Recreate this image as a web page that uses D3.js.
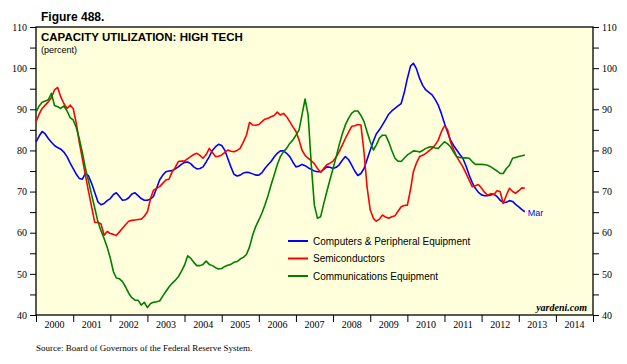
<!DOCTYPE html>
<html><head><meta charset="utf-8">
<script src="https://cdn.jsdelivr.net/npm/d3@7"></script>
<style>body{margin:0;background:#fff}svg{display:block}</style>
</head><body>
<svg id="c" width="627" height="364"></svg>
<script>
const startMonth = "2000-01";
const endMonth = "2013-03";
const yearLabels = ["2000","2001","2002","2003","2004","2005","2006","2007","2008","2009","2010","2011","2012","2013","2014"];
const yTicks = [40,50,60,70,80,90,100,110];
const seriesNames = ["Computers & Peripheral Equipment","Semiconductors","Communications Equipment"];
const seriesColors = ["#0000ff","#ff0000","#007f00"];

const computers = [82.1,83.5,84.6,84.0,82.9,82.0,81.2,80.7,80.3,79.6,78.5,77.0,75.6,74.2,73.2,73.0,74.4,73.8,72.0,69.8,
67.5,66.8,67.1,67.8,68.3,69.3,69.7,68.8,67.9,68.0,68.5,69.4,69.7,69.0,68.3,67.9,67.9,68.2,68.8,70.8,
72.8,74.0,74.8,75.0,75.1,75.5,76.0,76.6,77.1,77.2,76.8,76.0,75.5,75.6,76.0,77.2,78.5,80.0,80.9,81.5,
81.2,80.0,78.1,76.0,74.2,73.8,74.0,74.5,74.7,74.6,74.3,74.0,74.0,74.6,75.6,76.5,77.3,78.4,79.3,79.9,
79.9,79.3,78.5,77.2,76.0,76.2,76.6,76.3,75.8,75.4,75.0,74.8,74.8,75.4,76.0,75.9,75.6,75.9,76.5,77.6,
78.5,77.8,76.5,75.0,73.9,74.4,75.6,77.8,80.1,82.3,84.0,85.0,86.2,87.5,88.8,89.6,90.2,90.8,91.4,94.0,
97.5,100.5,101.2,99.8,97.5,95.8,94.7,94.1,93.5,92.4,91.0,89.0,86.6,84.4,82.5,81.2,80.1,79.0,78.1,76.2,
74.0,72.2,70.8,69.8,69.2,69.0,69.0,69.2,69.4,68.8,67.9,67.3,67.4,67.8,67.6,66.9,66.3,65.6,65.1];

const semiconductors = [87.0,88.8,90.2,91.0,91.8,92.8,94.7,95.3,93.0,91.4,90.2,91.0,90.2,86.5,82.1,78.0,74.0,70.0,66.3,62.5,
62.5,62.2,59.4,60.3,59.8,59.6,59.3,60.2,61.1,62.0,62.8,63.0,63.1,63.2,63.3,64.0,65.1,68.3,70.3,70.8,
71.2,72.0,72.8,73.0,74.8,75.8,77.3,77.4,77.4,78.0,78.5,79.0,79.3,78.8,78.1,79.0,80.5,79.5,78.5,78.6,
78.9,79.5,80.1,79.8,79.7,80.0,80.5,82.0,83.7,86.8,86.2,86.1,86.3,87.0,87.6,87.8,88.2,88.5,89.3,88.6,
89.0,88.2,87.0,85.8,84.6,82.5,80.1,78.8,78.1,77.5,76.8,75.6,74.7,75.6,76.5,76.9,77.4,78.4,79.7,81.3,
82.9,84.4,85.8,86.0,86.3,86.2,79.5,71.0,65.5,63.5,62.8,63.3,64.3,63.8,63.5,63.9,64.1,65.2,66.3,66.6,
66.7,70.5,74.8,77.0,78.5,78.8,79.3,79.9,80.5,81.3,82.5,84.5,86.0,85.0,82.1,80.2,78.5,77.2,76.0,74.4,
72.8,71.2,71.4,71.7,70.8,69.8,69.1,69.5,69.3,70.2,70.0,67.1,69.1,70.8,70.0,69.6,70.2,70.9,70.8];

const communications = [89.3,90.8,91.7,92.0,92.3,93.9,90.9,90.6,90.2,90.8,89.6,88.0,87.4,85.5,82.9,79.5,75.6,72.5,69.2,66.0,
62.7,60.5,58.6,56.5,53.8,50.5,49.0,48.8,48.1,46.8,45.3,44.2,43.6,43.6,42.4,43.1,41.8,42.8,43.1,43.2,
43.4,44.6,45.7,46.8,47.7,48.4,49.3,50.6,52.1,54.4,53.8,52.8,52.0,52.0,52.3,53.1,52.3,52.0,51.5,51.2,
51.3,51.8,52.1,52.3,52.8,53.0,53.6,54.0,54.7,56.5,59.4,61.5,63.1,64.8,66.7,69.0,71.6,74.0,76.5,78.5,
79.7,80.5,81.7,82.5,83.7,85.0,88.6,92.5,88.6,76.5,66.7,63.5,63.9,67.0,70.0,72.8,75.6,78.5,81.3,84.0,
86.2,87.8,89.0,89.6,89.6,88.5,87.0,84.5,82.1,80.1,81.3,83.0,83.7,83.7,82.1,80.0,78.1,77.4,77.3,78.1,
78.9,79.4,79.9,79.8,79.6,80.0,80.5,80.8,80.9,80.6,80.5,81.3,82.1,81.6,80.9,79.6,78.5,78.3,78.2,78.2,
78.1,77.3,76.6,76.6,76.6,76.5,76.4,76.0,75.5,75.0,74.4,74.4,75.6,76.4,78.1,78.3,78.5,78.7,78.9];

const series = [computers, semiconductors, communications];
const parseM = d3.timeParse("%Y-%m");
const months = d3.timeMonth.range(parseM(startMonth), d3.timeMonth.offset(parseM(endMonth), 1));

const svg = d3.select("#c");
const L = 36, R = 593, T = 27, B = 315;
const x = d3.scaleTime().domain([new Date(2000,0,1), new Date(2015,0,1)]).range([L, R]);
const y = d3.scaleLinear().domain([40,110]).range([B, T]);

svg.append("rect").attr("x",0).attr("y",0).attr("width",627).attr("height",364).attr("fill","#fff");
svg.append("rect").attr("x",L).attr("y",T).attr("width",R-L).attr("height",B-T).attr("fill","#ffffdc");

const serif = "'Liberation Serif','Times New Roman',serif";
const sans = "'Liberation Sans',Arial,sans-serif";

// left/right axes
const minorTicks = d3.range(40,111,5);
const leftAx = d3.axisLeft(y).tickValues(minorTicks).tickSize(6).tickPadding(3)
  .tickFormat(d => yTicks.includes(d) ? d : "");
const gl = svg.append("g").attr("transform",`translate(${L},0)`).call(leftAx);
const rightAx = d3.axisRight(y).tickValues(minorTicks).tickSize(6).tickPadding(3)
  .tickFormat(d => yTicks.includes(d) ? d : "");
const gr = svg.append("g").attr("transform",`translate(${R},0)`).call(rightAx);
[gl,gr].forEach(g=>{
  g.select(".domain").remove();
  g.selectAll("text").attr("font-family",serif).attr("font-size","10px").attr("fill","#000");
  g.selectAll("line").attr("stroke","#000");
});

// bottom axis
const yearTicks = d3.timeYear.range(new Date(2000,0,1), new Date(2015,1,1));
const gb = svg.append("g").attr("transform",`translate(0,${B})`)
  .call(d3.axisBottom(x).tickValues(yearTicks).tickSize(7).tickFormat(""));
gb.select(".domain").remove();
gb.selectAll("line").attr("stroke","#000");
svg.append("g").selectAll("text").data(yearLabels).join("text")
  .attr("x", d => (x(new Date(+d,0,1)) + x(new Date(+d+1,0,1)))/2)
  .attr("y", B+13).attr("text-anchor","middle")
  .attr("font-family",serif).attr("font-size","10px").text(d=>d);

// frame
svg.append("rect").attr("x",L).attr("y",T).attr("width",R-L).attr("height",B-T)
  .attr("fill","none").attr("stroke","#000").attr("stroke-width",1.3);

// lines
const line = d3.line().x((d,i)=>x(months[i])).y(d=>y(d));
series.forEach((s,k)=>{
  svg.append("path").datum(s).attr("d",line).attr("fill","none")
    .attr("stroke",seriesColors[k]).attr("stroke-width",1.6).attr("stroke-linejoin","round");
});

// titles
svg.append("text").attr("x",41).attr("y",21).attr("font-family",sans).attr("font-weight","bold")
  .attr("font-size","12px").text("Figure 488.");
svg.append("text").attr("x",41).attr("y",41).attr("font-family",sans).attr("font-weight","bold")
  .attr("font-size","11.5px").text("CAPACITY UTILIZATION: HIGH TECH");
svg.append("text").attr("x",41).attr("y",53).attr("font-family",sans)
  .attr("font-size","9px").text("(percent)");

// legend
const lg = svg.append("g");
seriesNames.forEach((n,k)=>{
  const yy = 241 + k*17.5;
  lg.append("line").attr("x1",288).attr("x2",308).attr("y1",yy).attr("y2",yy)
    .attr("stroke",seriesColors[k]).attr("stroke-width",2);
  lg.append("text").attr("x",313).attr("y",yy+3.5).attr("font-family",sans)
    .attr("font-size","10px").text(n);
});

// end label
svg.append("text").attr("x", x(months[months.length-1])+3).attr("y", y(computers[computers.length-1])+4)
  .attr("font-family",sans).attr("font-size","9px").attr("fill","#0000ff").text("Mar");

svg.append("text").attr("x",587).attr("y",311).attr("text-anchor","end").attr("font-family",serif)
  .attr("font-style","italic").attr("font-weight","bold").attr("font-size","10px").text("yardeni.com");

svg.append("text").attr("x",36).attr("y",351).attr("font-family",serif)
  .attr("font-size","9px").text("Source: Board of Governors of the Federal Reserve System.");
</script>
</body></html>
